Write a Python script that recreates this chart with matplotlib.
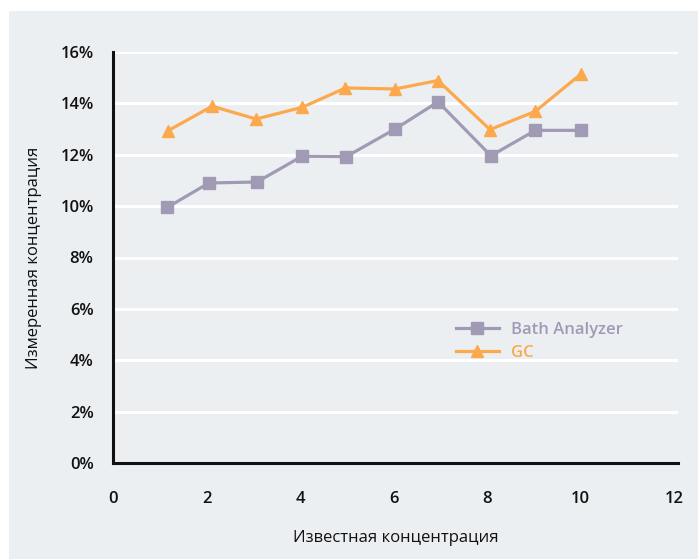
import matplotlib
matplotlib.use("Agg")
import matplotlib.pyplot as plt
from matplotlib.patches import Rectangle
from matplotlib.ticker import FuncFormatter

# Data
ba_x = [1.16, 2.05, 3.08, 4.04, 4.99, 6.03, 6.95, 8.08, 9.03, 10.01]
ba_y = [9.95, 10.9, 10.94, 11.94, 11.93, 13.0, 14.06, 11.96, 12.95, 12.95]
gc_x = [1.18, 2.12, 3.06, 4.05, 4.97, 6.03, 6.95, 8.06, 9.03, 10.01]
gc_y = [12.94, 13.89, 13.39, 13.85, 14.6, 14.56, 14.89, 12.98, 13.69, 15.15]
x_ticks = [0, 2, 4, 6, 8, 10, 12]
y_ticks = [0, 2, 4, 6, 8, 10, 12, 14, 16]
labels = ["Bath Analyzer", "GC"]
xlabel = "Известная концентрация"
ylabel = "Измеренная концентрация"

ba_color = "#a09ab5"
gc_color = "#fba94c"
bg = "#eceff2"

plt.rcParams['font.family'] = ['Open Sans', 'DejaVu Sans']

fig = plt.figure(figsize=(6.98, 5.59), dpi=100)
fig.patch.set_facecolor("white")
rect = Rectangle((9 / 698, 0), 1, 1 - 11 / 559, transform=fig.transFigure,
                 facecolor=bg, edgecolor="none", zorder=-10)
fig.add_artist(rect)

ax = fig.add_axes([113 / 698, 1 - 463 / 559, (678 - 113) / 698, (463 - 52) / 559])
ax.set_zorder(1)
ax.patch.set_alpha(0)

ax.plot(ba_x, ba_y, color=ba_color, lw=2.3, marker="s", ms=8.5, label=labels[0], zorder=3)
ax.plot(gc_x, gc_y, color=gc_color, lw=2.3, marker="^", ms=9, label=labels[1], zorder=3)

ax.set_xlim(0, 12.08)
ax.set_ylim(0, 16)
ax.set_xticks(x_ticks)
ax.set_yticks(y_ticks)
ax.yaxis.set_major_formatter(FuncFormatter(lambda v, p: f"{int(v)}%"))
ax.grid(axis="y", color="white", lw=2.2, zorder=0)
ax.set_axisbelow(True)
ax.tick_params(length=0, labelsize=12, colors="#111111")
ax.tick_params(axis="x", pad=20)
ax.tick_params(axis="y", pad=14)
for lab in ax.get_xticklabels() + ax.get_yticklabels():
    lab.set_fontweight("semibold")

for s in ["top", "right"]:
    ax.spines[s].set_visible(False)
for s in ["left", "bottom"]:
    ax.spines[s].set_linewidth(2.2)
    ax.spines[s].set_color("#111111")

ax.set_xlabel(xlabel, fontsize=12, fontweight="medium", labelpad=17, color="#111111")
ax.set_ylabel(ylabel, fontsize=12, fontweight="medium", labelpad=13, color="#111111")

leg = ax.legend(loc="upper left", bbox_to_anchor=(0.58, 0.38), frameon=False,
                fontsize=12, handlelength=2.6, handletextpad=0.7, labelspacing=0.45)
for txt, c in zip(leg.get_texts(), [ba_color, gc_color]):
    txt.set_color(c)
    txt.set_fontweight("semibold")

fig.savefig("out.png", dpi=100, facecolor=fig.get_facecolor())
